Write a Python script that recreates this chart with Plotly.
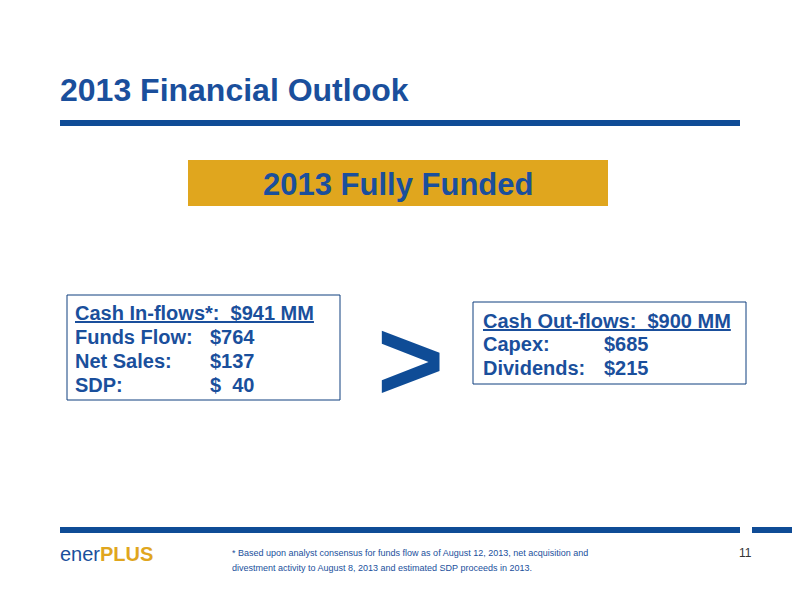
import plotly.graph_objects as go

title = "2013 Financial Outlook"
banner = "2013 Fully Funded"
in_labels = ["Funds Flow:", "Net Sales:", "SDP:"]
in_values = ["$764", "$137", "$  40"]
in_header = "Cash In-flows*:  $941 MM"
out_labels = ["Capex:", "Dividends:"]
out_values = ["$685", "$215"]
out_header = "Cash Out-flows:  $900 MM"
footnote = ["* Based upon analyst consensus for funds flow as of August 12, 2013, net acquisition and",
            "divestment activity to August 8, 2013 and estimated SDP proceeds in 2013."]
page = "11"

BLUE = "#1A4F9C"
GOLD = "#E0A61E"
F = "Liberation Sans, Arial"

fig = go.Figure()
shapes = [
    dict(type="rect", x0=60, x1=740, y0=120, y1=126, fillcolor="#0F4C96", line_width=0),
    dict(type="rect", x0=188, x1=608, y0=160, y1=206, fillcolor=GOLD, line_width=0),
    dict(type="rect", x0=67, x1=340, y0=295, y1=400, fillcolor="white", line=dict(color="#0F3E7E", width=1)),
    dict(type="rect", x0=473, x1=746, y0=302, y1=384, fillcolor="white", line=dict(color="#0F3E7E", width=1)),
    dict(type="rect", x0=60, x1=740, y0=527, y1=533, fillcolor="#0F4C96", line_width=0),
    dict(type="rect", x0=752, x1=810, y0=527, y1=533, fillcolor="#0F4C96", line_width=0),
]
ann = []
def t(x, y, s, size, color=BLUE, bold=True, anchor="left"):
    ann.append(dict(x=x, y=y, text=(f"<b>{s}</b>" if bold else s), showarrow=False,
                    xanchor=anchor, yanchor="middle", font=dict(family=F, size=size, color=color)))

t(58, 90, title, 32)
t(398, 184, banner, 31, anchor="center")
t(73, 313, f"<u>{in_header}</u>", 20)
for i, (l, v) in enumerate(zip(in_labels, in_values)):
    y = 337 + 24 * i
    t(73, y, l, 20); t(208, y, v, 20)
t(481, 321, f"<u>{out_header}</u>", 20)
for i, (l, v) in enumerate(zip(out_labels, out_values)):
    y = 344 + 24 * i
    t(481, y, l, 20); t(602, y, v, 20)
t(410, 360, "&gt;", 115, color="#0F4C96", anchor="center")
ann.append(dict(x=58, y=554, showarrow=False, xanchor="left", yanchor="middle",
                text=f"<span style='color:{BLUE}'>ener</span><b><span style='color:{GOLD}'>PLUS</span></b>",
                font=dict(family=F, size=20)))
t(230, 553, footnote[0], 9, bold=False)
t(230, 568, footnote[1], 9, bold=False)
t(737, 553, page, 12, color="#333333", bold=False)

fig.update_layout(width=800, height=600, margin=dict(l=0, r=0, t=0, b=0),
                  paper_bgcolor="white", plot_bgcolor="white", shapes=shapes, annotations=ann,
                  xaxis=dict(range=[8, 808], visible=False, fixedrange=True),
                  yaxis=dict(range=[608, 8], visible=False, fixedrange=True), showlegend=False)
fig.write_html("out.html")
